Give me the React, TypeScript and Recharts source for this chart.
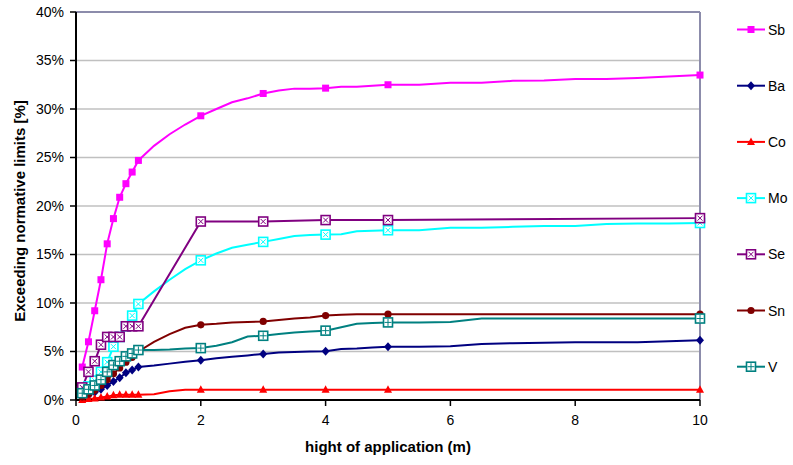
import React from 'react';
import {
  LineChart, Line, XAxis, YAxis, CartesianGrid, ReferenceLine, Label,
} from 'recharts';

// heights (m) shared by all series
const X = [
  0.1, 0.2, 0.3, 0.4, 0.5, 0.6, 0.7, 0.8, 0.9, 1,
  1.25, 1.5, 1.75, 2, 2.25, 2.5, 2.75, 3, 3.25, 3.5, 3.75, 4,
  4.25, 4.5, 4.75, 5, 5.5, 6, 6.5, 7, 7.5, 8, 8.5, 9, 9.5, 10,
];
// heights that carry a marker
const MARKED_X = [0.1, 0.2, 0.3, 0.4, 0.5, 0.6, 0.7, 0.8, 0.9, 1, 2, 3, 4, 5, 10];

const SB = [3.4, 6.0, 9.2, 12.4, 16.1, 18.7, 20.9, 22.3, 23.5, 24.7,
  26.2, 27.4, 28.4, 29.3, 30.0, 30.7, 31.1, 31.6, 31.9, 32.1, 32.1, 32.15,
  32.3, 32.3, 32.4, 32.5, 32.5, 32.7, 32.7, 32.9, 32.95, 33.1, 33.1, 33.2, 33.35, 33.5];
const BA = [0.3, 0.5, 0.8, 1.1, 1.5, 1.9, 2.3, 2.8, 3.1, 3.4,
  3.55, 3.75, 3.95, 4.1, 4.3, 4.45, 4.6, 4.75, 4.9, 4.95, 5.0, 5.03,
  5.25, 5.3, 5.4, 5.5, 5.5, 5.55, 5.78, 5.85, 5.9, 5.95, 5.95, 5.95, 6.05, 6.15];
const CO = [0, 0.1, 0.15, 0.25, 0.35, 0.5, 0.55, 0.55, 0.55, 0.55,
  0.6, 0.9, 1.05, 1.05, 1.05, 1.05, 1.05, 1.05, 1.05, 1.05, 1.05, 1.05,
  1.05, 1.05, 1.05, 1.05, 1.05, 1.05, 1.05, 1.05, 1.05, 1.05, 1.05, 1.05, 1.05, 1.05];
const MO = [0.9, 1.4, 2.0, 2.9, 3.9, 5.5, 6.5, 7.6, 8.7, 9.9,
  11.2, 12.4, 13.5, 14.4, 15.1, 15.7, 16.0, 16.3, 16.6, 16.9, 17.0, 17.05,
  17.1, 17.4, 17.45, 17.5, 17.5, 17.75, 17.75, 17.85, 17.95, 17.95, 18.15, 18.2, 18.2, 18.25];
const SE = [1.3, 2.9, 4.0, 5.7, 6.5, 6.5, 6.5, 7.6, 7.6, 7.6,
  null, null, null, 18.4, null, null, null, 18.4, null, null, null, 18.55,
  null, null, null, 18.55, null, null, null, null, null, null, null, null, null, 18.75];
const SN = [0.3, 0.6, 1.0, 1.5, 2.1, 2.7, 3.3, 3.9, 4.4, 5.0,
  6.0, 6.8, 7.45, 7.75, 7.85, 8.0, 8.05, 8.1, 8.25, 8.4, 8.5, 8.7,
  8.8, 8.85, 8.85, 8.85, 8.85, 8.85, 8.85, 8.85, 8.85, 8.85, 8.85, 8.85, 8.85, 8.85];
const V = [0.7, 1.1, 1.5, 2.1, 2.9, 3.6, 4.0, 4.5, 4.8, 5.15,
  5.15, 5.2, 5.3, 5.35, 5.6, 5.95, 6.55, 6.62, 6.8, 6.95, 7.05, 7.15,
  7.5, 7.85, 7.95, 8.0, 8.0, 8.05, 8.4, 8.4, 8.4, 8.4, 8.4, 8.4, 8.4, 8.4];

const Y_TICKS = [0, 5, 10, 15, 20, 25, 30, 35, 40];
const X_TICKS = [0, 2, 4, 6, 8, 10];

type Kind = 'square' | 'diamond' | 'triangle' | 'xbox' | 'circle' | 'plusbox';

const SERIES: { key: string; name: string; color: string; kind: Kind; values: (number | null)[] }[] = [
  { key: 'sb', name: 'Sb', color: '#ff00ff', kind: 'square', values: SB },
  { key: 'ba', name: 'Ba', color: '#000080', kind: 'diamond', values: BA },
  { key: 'co', name: 'Co', color: '#ff0000', kind: 'triangle', values: CO },
  { key: 'mo', name: 'Mo', color: '#00ffff', kind: 'xbox', values: MO },
  { key: 'se', name: 'Se', color: '#800080', kind: 'xbox', values: SE },
  { key: 'sn', name: 'Sn', color: '#800000', kind: 'circle', values: SN },
  { key: 'v', name: 'V', color: '#008080', kind: 'plusbox', values: V },
];

const data = X.map((x, i) => {
  const row: Record<string, number | null> = { x };
  SERIES.forEach((s) => { row[s.key] = s.values[i]; });
  return row;
});

function Marker({ kind, color, cx, cy }: { kind: Kind; color: string; cx: number; cy: number }) {
  switch (kind) {
    case 'square':
      return <rect x={cx - 3.5} y={cy - 3.5} width={7} height={7} fill={color} />;
    case 'diamond':
      return <polygon points={`${cx},${cy - 4.5} ${cx + 4},${cy} ${cx},${cy + 4.5} ${cx - 4},${cy}`} fill={color} />;
    case 'triangle':
      return <polygon points={`${cx},${cy - 4.5} ${cx + 4},${cy + 3} ${cx - 4},${cy + 3}`} fill={color} />;
    case 'circle':
      return <circle cx={cx} cy={cy} r={3.6} fill={color} />;
    case 'xbox':
      return (
        <g>
          <rect x={cx - 4.5} y={cy - 4.5} width={9} height={9} fill="#fff" stroke={color} strokeWidth={1.6} />
          <path d={`M${cx - 2.5},${cy - 2.5}L${cx + 2.5},${cy + 2.5}M${cx + 2.5},${cy - 2.5}L${cx - 2.5},${cy + 2.5}`} stroke={color} strokeWidth={1} />
        </g>
      );
    case 'plusbox':
      return (
        <g>
          <rect x={cx - 4.5} y={cy - 4.5} width={9} height={9} fill="#fff" stroke={color} strokeWidth={1.6} />
          <path d={`M${cx},${cy - 3.5}L${cx},${cy + 3.5}M${cx - 3.5},${cy}L${cx + 3.5},${cy}`} stroke={color} strokeWidth={1} />
        </g>
      );
  }
  return null;
}

const FONT = "'Liberation Sans', Arial, sans-serif";

export default function App() {
  return (
    <div style={{ position: 'relative', width: 793, height: 465, background: '#fff', fontFamily: FONT }}>
      <style>{'body{margin:0}'}</style>
      <LineChart width={793} height={465} data={data} margin={{ top: 12, right: 93, left: 16, bottom: 25 }}>
        <CartesianGrid horizontal vertical={false} stroke="#c0c0c0" strokeWidth={1.5} />
        <XAxis
          dataKey="x"
          type="number"
          domain={[0, 10]}
          ticks={X_TICKS}
          height={40}
          tick={{ fill: '#000', fontSize: 14, fontFamily: FONT }}
          tickSize={6}
          tickMargin={9}
          axisLine={{ stroke: '#000', strokeWidth: 2 }}
          tickLine={{ stroke: '#000', strokeWidth: 1.5 }}
        >
          <Label value="hight of application (m)" position="bottom" offset={1}
            style={{ fontSize: 15, fontWeight: 'bold', fill: '#000', fontFamily: FONT }} />
        </XAxis>
        <YAxis
          type="number"
          domain={[0, 40]}
          ticks={Y_TICKS}
          width={60}
          tickFormatter={(v) => `${v}%`}
          tick={{ fill: '#000', fontSize: 14, fontFamily: FONT }}
          tickSize={6}
          tickMargin={6}
          axisLine={{ stroke: '#000', strokeWidth: 2 }}
          tickLine={{ stroke: '#000', strokeWidth: 1.5 }}
        >
          <Label
            content={() => (
              <text x={19} y={211} transform="rotate(-90 19 211)" textAnchor="middle" dominantBaseline="central"
                fontSize={15} fontWeight="bold" fontFamily={FONT} fill="#000">
                Exceeding normative limits [%]
              </text>
            )}
          />
        </YAxis>
        <ReferenceLine y={40} stroke="#8c8cab" strokeWidth={2} />
        <ReferenceLine x={10} stroke="#8c8cab" strokeWidth={2} />
        {SERIES.map((s) => (
          <Line
            key={s.key}
            dataKey={s.key}
            type="linear"
            stroke={s.color}
            strokeWidth={2}
            connectNulls
            isAnimationActive={false}
            activeDot={false}
            dot={(p: any) => {
              if (p.cy == null || p.value == null || !MARKED_X.includes(p.payload.x)) {
                return <g key={`${s.key}-${p.index}`} />;
              }
              return (
                <g key={`${s.key}-${p.index}`}>
                  <Marker kind={s.kind} color={s.color} cx={p.cx} cy={p.cy} />
                </g>
              );
            }}
          />
        ))}
      </LineChart>
      <svg width={70} height={400} style={{ position: 'absolute', left: 730, top: 0 }}>
        {SERIES.map((s, i) => {
          const y = 29.5 + i * 56.2;
          return (
            <g key={s.key}>
              <line x1={7} x2={35} y1={y} y2={y} stroke={s.color} strokeWidth={2} />
              <Marker kind={s.kind} color={s.color} cx={21} cy={y} />
              <text x={38} y={y + 5} fontSize={14} fontFamily={FONT} fill="#000">{s.name}</text>
            </g>
          );
        })}
      </svg>
    </div>
  );
}
